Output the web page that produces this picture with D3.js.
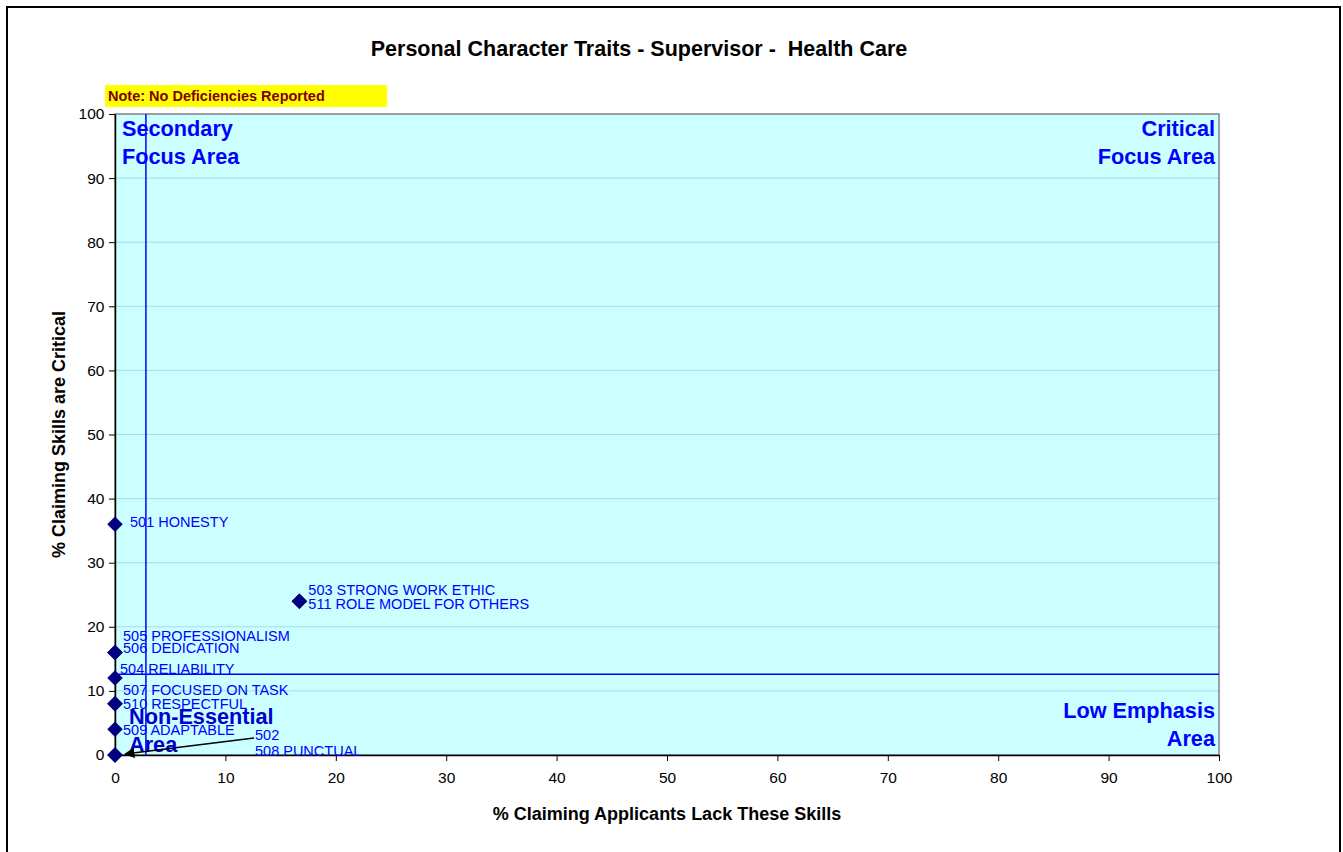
<!DOCTYPE html>
<html>
<head>
<meta charset="utf-8">
<script src="https://cdn.jsdelivr.net/npm/d3@7"></script>
<style>
  body { margin: 0; background: #fff; }
  svg { display: block; font-family: Arial, "Liberation Sans", sans-serif; }
</style>
</head>
<body>
<div id="chart"></div>
<script>
// data
var skills = ["501 HONESTY", "502", "503 STRONG WORK ETHIC", "504 RELIABILITY", "505 PROFESSIONALISM",
              "506 DEDICATION", "507 FOCUSED ON TASK", "508 PUNCTUAL", "509 ADAPTABLE",
              "510 RESPECTFUL", "511 ROLE MODEL FOR OTHERS"];
var lackPct =     [0, 0, 16.7, 0, 0, 0, 0, 0, 0, 0, 16.7];
var criticalPct = [36, 0, 24, 12, 16, 16, 8, 0, 4, 8, 24];
var xTicks = d3.range(0, 101, 10);
var yTicks = d3.range(0, 101, 10);
var splitX = 2.8, splitY = 12.6;

// label offsets in px, relative to each point
var labelDx = [15, 140, 9, 5, 8, 8, 8, 140, 8, 8, 9];
var labelDy = [-2, -20, -11, -9, -17, -5, -14, -4, 1, 0, 3];

var width = 1343,
    height = 852,
    plotL = 115, plotR = 1219,
    plotT = 114, plotB = 755;

var svg = d3.select("#chart").append("svg")
  .attr("width", width)
  .attr("height", height);

svg.append("rect")
  .attr("x", 7).attr("y", 7)
  .attr("width", 1333).attr("height", 860)
  .attr("fill", "none").attr("stroke", "#000").attr("stroke-width", 2);

var x = d3.scaleLinear().domain([0, 100]).range([plotL, plotR]);
var y = d3.scaleLinear().domain([0, 100]).range([plotB, plotT]);

svg.append("rect")
  .attr("x", plotL).attr("y", plotT)
  .attr("width", plotR - plotL).attr("height", plotB - plotT)
  .attr("fill", "#ccffff");

svg.selectAll(".grid")
  .data(yTicks.slice(1, -1))
  .enter().append("line")
  .attr("class", "grid")
  .attr("x1", plotL).attr("x2", plotR)
  .attr("y1", function(d) { return y(d); })
  .attr("y2", function(d) { return y(d); })
  .attr("stroke", "#a6dcef").attr("stroke-width", 1);

// plot frame (right/top grey)
svg.append("rect")
  .attr("x", plotL).attr("y", plotT)
  .attr("width", plotR - plotL).attr("height", plotB - plotT)
  .attr("fill", "none").attr("stroke", "#808080").attr("stroke-width", 1.5);

// quadrant divider lines
svg.append("line")
  .attr("x1", x(splitX)).attr("x2", x(splitX))
  .attr("y1", plotT).attr("y2", plotB)
  .attr("stroke", "#0000ff").attr("stroke-width", 1.5);
svg.append("line")
  .attr("x1", plotL).attr("x2", plotR)
  .attr("y1", y(splitY)).attr("y2", y(splitY))
  .attr("stroke", "#0000ff").attr("stroke-width", 1.5);

// axes
var xAxis = svg.append("g")
  .attr("transform", "translate(0," + plotB + ")")
  .call(d3.axisBottom(x).tickValues(xTicks).tickSize(6).tickSizeOuter(0));
var yAxis = svg.append("g")
  .attr("transform", "translate(" + plotL + ",0)")
  .call(d3.axisLeft(y).tickValues(yTicks).tickSize(6).tickSizeOuter(0));

[xAxis, yAxis].forEach(function(a) {
  a.select(".domain").attr("stroke", "#000").attr("stroke-width", 1.5);
  a.selectAll(".tick line").attr("stroke", "#000");
  a.selectAll(".tick text").attr("font-size", 15.5).attr("fill", "#000")
    .style("font-family", "Arial, 'Liberation Sans', sans-serif");
});
xAxis.selectAll(".tick text").attr("dy", "1.2em");
yAxis.selectAll(".tick text").attr("dx", "-0.1em");

// title and axis titles
svg.append("text")
  .attr("x", 639).attr("y", 56)
  .attr("text-anchor", "middle")
  .attr("font-size", 21.5).attr("font-weight", "bold")
  .attr("xml:space", "preserve")
  .text("Personal Character Traits - Supervisor -  Health Care");

svg.append("text")
  .attr("x", 667).attr("y", 820)
  .attr("text-anchor", "middle")
  .attr("font-size", 18).attr("font-weight", "bold")
  .text("% Claiming Applicants Lack These Skills");

svg.append("text")
  .attr("transform", "translate(65," + ((plotT + plotB) / 2) + ") rotate(-90)")
  .attr("text-anchor", "middle")
  .attr("font-size", 18).attr("font-weight", "bold")
  .text("% Claiming Skills are Critical");

// note box
svg.append("rect")
  .attr("x", 105).attr("y", 85).attr("width", 282).attr("height", 22)
  .attr("fill", "#ffff00");
svg.append("text")
  .attr("x", 108).attr("y", 101)
  .attr("font-size", 14.5).attr("font-weight", "bold").attr("fill", "#800000")
  .text("Note: No Deficiencies Reported");

// quadrant labels
var quad = [
  { lines: ["Secondary", "Focus Area"], x: plotL + 7, y: 136, anchor: "start" },
  { lines: ["Critical", "Focus Area"], x: plotR - 4, y: 136, anchor: "end" },
  { lines: ["Low Emphasis", "Area"], x: plotR - 4, y: 718, anchor: "end" },
  { lines: ["Non-Essential", "Area"], x: plotL + 14, y: 724, anchor: "start", color: "#0000cc" }
];
quad.forEach(function(q) {
  var t = svg.append("text")
    .attr("text-anchor", q.anchor)
    .attr("font-size", 21.7).attr("font-weight", "bold")
    .attr("fill", q.color || "#0000ff");
  q.lines.forEach(function(l, i) {
    t.append("tspan").attr("x", q.x).attr("y", q.y + i * 28).text(l);
  });
});

// arrow for the 502 / 508 labels
svg.append("defs").append("marker")
  .attr("id", "arr").attr("viewBox", "0 0 10 10")
  .attr("refX", 9).attr("refY", 5)
  .attr("markerWidth", 7).attr("markerHeight", 7)
  .attr("orient", "auto")
  .append("path").attr("d", "M0,0L10,5L0,10Z").attr("fill", "#000");
svg.append("line")
  .attr("x1", x(0) + 139).attr("y1", y(0) - 17)
  .attr("x2", x(0) + 10).attr("y2", y(0) - 1)
  .attr("stroke", "#000").attr("stroke-width", 1.5)
  .attr("marker-end", "url(#arr)");

// points
var pts = skills.map(function(s, i) { return { name: s, x: lackPct[i], y: criticalPct[i], i: i }; });

svg.selectAll(".pt")
  .data(pts)
  .enter().append("path")
  .attr("class", "pt")
  .attr("d", d3.symbol().type(d3.symbolSquare).size(120))
  .attr("transform", function(d) { return "translate(" + x(d.x) + "," + y(d.y) + ") rotate(45)"; })
  .attr("fill", "#000080");

svg.selectAll(".lbl")
  .data(pts)
  .enter().append("text")
  .attr("class", "lbl")
  .attr("x", function(d) { return x(d.x) + labelDx[d.i]; })
  .attr("y", function(d) { return y(d.y) + labelDy[d.i]; })
  .attr("dy", "0.35em")
  .attr("font-size", 14.5).attr("fill", "#0000ff")
  .text(function(d) { return d.name; });
</script>
</body>
</html>
